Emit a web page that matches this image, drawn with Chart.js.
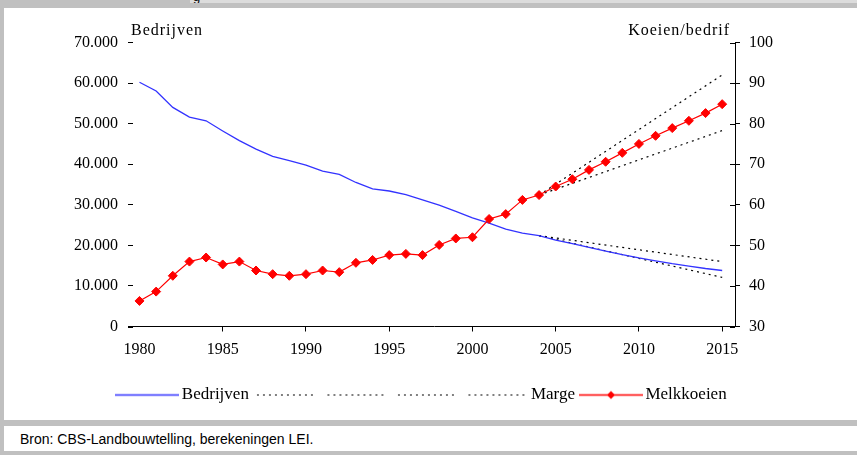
<!DOCTYPE html>
<html lang="nl">
<head>
<meta charset="utf-8">
<title>Bedrijven en melkkoeien per bedrijf</title>
<script src="https://cdn.jsdelivr.net/npm/chart.js@4.4.1/dist/chart.umd.min.js"></script>
<style>
  html, body { margin: 0; padding: 0; background: #fff; }
  #page { position: relative; width: 857px; height: 455px; overflow: hidden; background: #fff; }
  .band { position: absolute; background: #c0c0c0; }
  #kop { position: absolute; left: 190px; top: 0; width: 667px; height: 3px; background: #dcdcdc; overflow: hidden; }
  #kop span { position: absolute; left: 3px; top: -11px; font: 13px "Liberation Sans", Arial, sans-serif; color: #000; }
  #chartBox { position: absolute; left: 4px; top: 8px; width: 853px; height: 412px; }
  #bron { position: absolute; left: 20px; top: 431px; font: 14px "Liberation Sans", Arial, sans-serif; color: #000; }
</style>
</head>
<body>
<div id="page">
  <div class="band" style="left:0;top:0;width:857px;height:8px"></div>
  <div id="kop"><span>g</span></div>
  <div class="band" style="left:0;top:0;width:4px;height:455px"></div>
  <div id="chartBox"><canvas id="melkChart" width="853" height="412"></canvas></div>
  <div class="band" style="left:0;top:420px;width:857px;height:6px"></div>
  <div id="bron">Bron: CBS-Landbouwtelling, berekeningen LEI.</div>
  <div class="band" style="left:0;top:451px;width:857px;height:4px"></div>
</div>

<script>
// Jaren (x-as)
const jaren = [1980, 1981, 1982, 1983, 1984, 1985, 1986, 1987, 1988, 1989,
               1990, 1991, 1992, 1993, 1994, 1995, 1996, 1997, 1998, 1999,
               2000, 2001, 2002, 2003, 2004, 2005, 2006, 2007, 2008, 2009,
               2010, 2011, 2012, 2013, 2014, 2015];

// Aantal bedrijven (linker as)
const bedrijven = [60200, 58050, 54000, 51600, 50700, 48200, 45800, 43700, 41950, 40900,
                   39800, 38300, 37500, 35500, 33900, 33400, 32500, 31200, 29900, 28400,
                   26800, 25500, 24000, 23000, 22400, 21300, 20400, 19500, 18600, 17700,
                   16900, 16200, 15500, 14900, 14300, 13800];

// Melkkoeien per bedrijf (rechter as)
const melkkoeien = [36.3, 38.6, 42.5, 46.0, 47.0, 45.3, 46.0, 43.8, 42.9, 42.5,
                    42.9, 43.8, 43.4, 45.7, 46.4, 47.6, 47.9, 47.6, 50.1, 51.7,
                    52.0, 56.5, 57.7, 61.2, 62.4, 64.5, 66.3, 68.6, 70.6, 72.8,
                    75.0, 77.0, 78.9, 80.7, 82.6, 84.8];

// Marges rond de prognose
const margeJaren = [2004, 2015];
const bedrijvenMargeHoog = [22400, 16000];
const bedrijvenMargeLaag = [22400, 12100];
const koeienMargeHoog = [62.4, 92.0];
const koeienMargeLaag = [62.4, 78.3];

// Asindeling
const jaarTicks = [1980, 1985, 1990, 1995, 2000, 2005, 2010, 2015];
const bedrijvenTicks = [0, 10000, 20000, 30000, 40000, 50000, 60000, 70000];
const koeienTicks = [30, 40, 50, 60, 70, 80, 90, 100];

const serif = '"Liberation Serif", "Times New Roman", serif';

function punten(xs, ys) {
    return xs.map((x, i) => ({ x: x, y: ys[i] }));
}

function duizendtal(v) {
    return String(v).replace(/\B(?=(\d{3})+(?!\d))/g, '.');
}

// Small canvases used as legend samples
function legendaLijn(kleur, stippel, ruit) {
    const c = document.createElement('canvas');
    c.width = 64;
    c.height = 12;
    const g = c.getContext('2d');
    g.strokeStyle = kleur;
    g.lineWidth = stippel ? 1 : 1.3;
    if (stippel) g.setLineDash([2, 4]);
    g.beginPath();
    g.moveTo(stippel ? 4 : 0, 6.5);
    g.lineTo(64, 6.5);
    g.stroke();
    if (ruit) {
        g.fillStyle = kleur;
        g.beginPath();
        g.moveTo(32, 2.5);
        g.lineTo(36, 6.5);
        g.lineTo(32, 10.5);
        g.lineTo(28, 6.5);
        g.closePath();
        g.fill();
    }
    return c;
}

// Axis titles, stub of the x-axis line and inner half of the right-axis ticks
const asTitels = {
    id: 'asTitels',
    afterDraw(chart) {
        const { ctx, chartArea, scales } = chart;
        ctx.save();
        ctx.fillStyle = '#000';
        ctx.font = '16px ' + serif;
        ctx.letterSpacing = '1px';
        ctx.textBaseline = 'middle';
        ctx.textAlign = 'left';
        ctx.fillText('Bedrijven', chartArea.left - 2, chartArea.top - 12);
        ctx.textAlign = 'right';
        ctx.fillText('Koeien/bedrif', chartArea.right - 5, chartArea.top - 12);
        ctx.strokeStyle = '#000';
        ctx.lineWidth = 1;
        const yb = Math.round(chartArea.bottom) + 0.5;
        ctx.beginPath();
        ctx.moveTo(chartArea.left - 5, yb);
        ctx.lineTo(chartArea.left, yb);
        ctx.stroke();
        scales.y1.ticks.forEach(t => {
            const y = Math.round(scales.y1.getPixelForValue(t.value)) + 0.5;
            ctx.beginPath();
            ctx.moveTo(chartArea.right - 5, y);
            ctx.lineTo(chartArea.right, y);
            ctx.stroke();
        });
        ctx.restore();
    }
};

function initializeMelkChart() {
    try {
        const ctx = document.getElementById('melkChart').getContext('2d');
        const blauw = legendaLijn('#3333ff', false, false);
        const stip = legendaLijn('#000000', true, false);
        const rood = legendaLijn('#ff0000', false, true);

        new Chart(ctx, {
            type: 'line',
            data: {
                datasets: [{
                    label: 'Melkkoeien',
                    data: punten(jaren, melkkoeien),
                    yAxisID: 'y1',
                    borderColor: '#ff0000',
                    backgroundColor: '#ff0000',
                    borderWidth: 1.2,
                    pointStyle: 'rectRot',
                    pointRadius: 4.5,
                    pointBorderWidth: 1,
                    pointBorderColor: '#ff0000',
                    pointBackgroundColor: '#ff0000',
                    tension: 0
                }, {
                    label: 'Bedrijven',
                    data: punten(jaren, bedrijven),
                    yAxisID: 'y',
                    borderColor: '#3333ff',
                    borderWidth: 1.3,
                    pointRadius: 0,
                    tension: 0
                }, {
                    label: 'Marge bedrijven hoog',
                    data: punten(margeJaren, bedrijvenMargeHoog),
                    yAxisID: 'y',
                    borderColor: '#000',
                    borderWidth: 1.2,
                    borderDash: [2, 4],
                    pointRadius: 0
                }, {
                    label: 'Marge bedrijven laag',
                    data: punten(margeJaren, bedrijvenMargeLaag),
                    yAxisID: 'y',
                    borderColor: '#000',
                    borderWidth: 1.2,
                    borderDash: [2, 4],
                    pointRadius: 0
                }, {
                    label: 'Marge koeien hoog',
                    data: punten(margeJaren, koeienMargeHoog),
                    yAxisID: 'y1',
                    borderColor: '#000',
                    borderWidth: 1.2,
                    borderDash: [2, 4],
                    pointRadius: 0
                }, {
                    label: 'Marge',
                    data: punten(margeJaren, koeienMargeLaag),
                    yAxisID: 'y1',
                    borderColor: '#000',
                    borderWidth: 1.2,
                    borderDash: [2, 4],
                    pointRadius: 0
                }]
            },
            options: {
                responsive: false,
                animation: false,
                layout: { padding: { top: 34.5, left: 0, right: 13, bottom: 7 } },
                plugins: {
                    tooltip: { enabled: false },
                    legend: {
                        position: 'bottom',
                        labels: {
                            usePointStyle: true,
                            pointStyleWidth: 52,
                            padding: 10,
                            color: '#000',
                            font: { family: serif, size: 17 },
                            generateLabels: () => [
                                { text: 'Bedrijven', pointStyle: blauw, datasetIndex: 1 },
                                { text: '', pointStyle: stip, datasetIndex: 2 },
                                { text: '', pointStyle: stip, datasetIndex: 3 },
                                { text: '', pointStyle: stip, datasetIndex: 4 },
                                { text: 'Marge', pointStyle: stip, datasetIndex: 5 },
                                { text: 'Melkkoeien', pointStyle: rood, datasetIndex: 0 }
                            ].map(item => Object.assign({
                                fillStyle: 'rgba(0,0,0,0)',
                                strokeStyle: 'rgba(0,0,0,0)',
                                lineWidth: 0,
                                hidden: false,
                                fontColor: '#000'
                            }, item))
                        }
                    }
                },
                scales: {
                    x: {
                        type: 'linear',
                        min: 1979.61,
                        max: 2015.77,
                        afterBuildTicks: s => { s.ticks = jaarTicks.map(v => ({ value: v })); },
                        afterFit: s => { s.height = 49.5; },
                        ticks: {
                            autoSkip: false,
                            maxRotation: 0,
                            padding: 9,
                            color: '#000',
                            font: { family: serif, size: 16 },
                            callback: v => String(v)
                        },
                        grid: {
                            drawOnChartArea: false,
                            tickLength: 5,
                            color: c => (c.tick && c.tick.value === 1980) ? 'rgba(0,0,0,0)' : '#000'
                        },
                        border: { display: true, color: '#000', width: 1 }
                    },
                    y: {
                        position: 'left',
                        min: 0,
                        max: 70000,
                        afterBuildTicks: s => { s.ticks = bedrijvenTicks.map(v => ({ value: v })); },
                        afterFit: s => { s.width = 129; },
                        ticks: {
                            padding: 10,
                            color: '#000',
                            font: { family: serif, size: 16 },
                            callback: v => duizendtal(v)
                        },
                        grid: { drawOnChartArea: false, tickLength: 5, color: '#000' },
                        border: { display: false }
                    },
                    y1: {
                        position: 'right',
                        min: 30,
                        max: 100,
                        afterBuildTicks: s => { s.ticks = koeienTicks.map(v => ({ value: v })); },
                        afterFit: s => { s.width = 109; },
                        ticks: {
                            padding: 9,
                            color: '#000',
                            font: { family: serif, size: 16 },
                            callback: v => String(v)
                        },
                        grid: { drawOnChartArea: false, tickLength: 5, color: '#000' },
                        border: { display: true, color: '#000', width: 1 }
                    }
                }
            },
            plugins: [asTitels]
        });
    } catch (error) {
        console.error('Error initializing melk chart:', error);
    }
}

document.addEventListener('DOMContentLoaded', function() {
    initializeMelkChart();
});
</script>
</body>
</html>
